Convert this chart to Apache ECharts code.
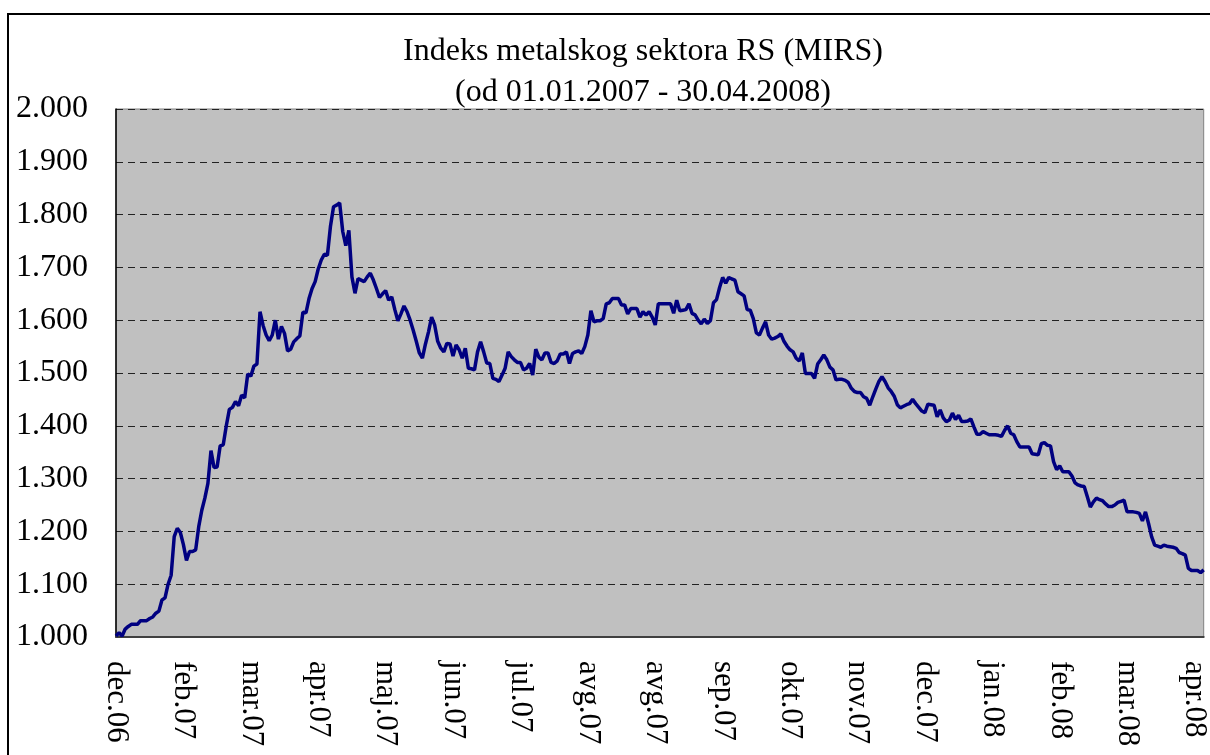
<!DOCTYPE html>
<html>
<head>
<meta charset="utf-8">
<title>MIRS</title>
<script src="https://cdn.jsdelivr.net/npm/echarts@6/dist/echarts.min.js"></script>
<style>
  html, body { margin: 0; padding: 0; background: #fff; overflow: hidden; width: 1210px; height: 755px; }
  #chart { position: absolute; left: 0; top: 0; width: 1210px; height: 755px; }
  .frame { position: absolute; left: 7px; top: 13px; width: 1210px; height: 750px; border: 2px solid #000; pointer-events: none; }
</style>
</head>
<body>
<div id="chart"></div>
<div class="frame"></div>
<script>
// labels shown on every 22nd trading day
const tickLabels = ['dec.06', 'feb.07', 'mar.07', 'apr.07', 'maj.07', 'jun.07', 'jul.07', 'avg.07', 'avg.07',
  'sep.07', 'okt.07', 'nov.07', 'dec.07', 'jan.08', 'feb.08', 'mar.08', 'apr.08']
const labelEvery = 22

// index value (1.000 = 1000)
const mirs = [
  1002, 1008, 1002, 1015, 1020, 1024, 1024, 1024, 1031, 1031, 1031, 1035, 1038, 1045, 1049, 1070, 1074, 1100, 1117, 1190,
  1206, 1198, 1175, 1145, 1162, 1162, 1165, 1209, 1240, 1263, 1291, 1353, 1321, 1322, 1362, 1364, 1400, 1431, 1435, 1446,
  1438, 1458, 1453, 1498, 1494, 1513, 1517, 1616, 1590, 1572, 1561, 1572, 1600, 1564, 1588, 1575, 1542, 1545, 1559, 1565,
  1570, 1615, 1614, 1641, 1660, 1673, 1697, 1714, 1725, 1723, 1778, 1815, 1818, 1822, 1768, 1741, 1770, 1682, 1651, 1679,
  1676, 1673, 1682, 1689, 1676, 1660, 1643, 1650, 1656, 1638, 1644, 1620, 1599, 1612, 1627, 1616, 1600, 1581, 1560, 1538,
  1528, 1555, 1578, 1606, 1591, 1560, 1547, 1540, 1556, 1555, 1532, 1553, 1544, 1528, 1547, 1509, 1508, 1506, 1540, 1559,
  1540, 1519, 1518, 1490, 1488, 1484, 1496, 1509, 1540, 1531, 1525, 1520, 1520, 1506, 1509, 1518, 1496, 1545, 1530, 1525,
  1538, 1538, 1520, 1518, 1523, 1536, 1536, 1540, 1518, 1537, 1540, 1542, 1537, 1550, 1572, 1618, 1597, 1599, 1599, 1603,
  1631, 1633, 1641, 1641, 1641, 1629, 1629, 1612, 1622, 1622, 1622, 1606, 1616, 1610, 1616, 1606, 1591, 1631, 1631, 1631,
  1631, 1631, 1613, 1638, 1618, 1619, 1620, 1631, 1613, 1610, 1600, 1593, 1602, 1594, 1599, 1633, 1639, 1662, 1681, 1670,
  1681, 1678, 1676, 1654, 1650, 1646, 1620, 1619, 1603, 1576, 1572, 1585, 1597, 1572, 1564, 1566, 1569, 1574, 1560, 1551,
  1544, 1540, 1528, 1523, 1538, 1499, 1499, 1499, 1490, 1517, 1525, 1534, 1525, 1511, 1506, 1487, 1488, 1488, 1486, 1482,
  1471, 1465, 1463, 1463, 1455, 1452, 1439, 1455, 1470, 1484, 1493, 1484, 1472, 1465, 1456, 1440, 1434, 1437, 1440, 1442,
  1450, 1442, 1435, 1428, 1425, 1441, 1440, 1439, 1417, 1430, 1415, 1408, 1411, 1424, 1412, 1420, 1408, 1408, 1409, 1413,
  1398, 1384, 1384, 1389, 1386, 1383, 1383, 1383, 1382, 1380, 1391, 1400, 1386, 1383, 1370, 1360, 1360, 1360, 1360, 1347,
  1346, 1345, 1366, 1368, 1363, 1362, 1332, 1317, 1324, 1313, 1313, 1313, 1305, 1292, 1288, 1286, 1285, 1266, 1246, 1256,
  1263, 1260, 1258, 1252, 1247, 1247, 1250, 1255, 1257, 1259, 1237, 1237, 1237, 1236, 1234, 1220, 1237, 1215, 1190, 1174,
  1172, 1170, 1174, 1172, 1171, 1170, 1168, 1160, 1158, 1155, 1130, 1126, 1126, 1126, 1122, 1127
]

const yMin = 1000
const yMax = 2000
const yStep = 100

const days = mirs.map((v, i) => (i % labelEvery === 0 ? tickLabels[i / labelEvery] : ''))

const font = 'Liberation Serif'
const myChart = echarts.init(document.getElementById('chart'))
myChart.setOption({
  animation: false,
  title: {
    text: 'Indeks metalskog sektora RS (MIRS)\n(od 01.01.2007 - 30.04.2008)',
    left: 638,
    top: 26,
    textAlign: 'center',
    textStyle: {
      fontFamily: font,
      fontSize: 32,
      fontWeight: 'normal',
      color: '#000',
      lineHeight: 41
    }
  },
  // plot runs off the right edge, like the cropped original
  grid: {
    left: 116,
    width: 1096,
    top: 109,
    bottom: 118,
    show: true,
    backgroundColor: '#c0c0c0',
    borderColor: '#808080',
    borderWidth: 1
  },
  xAxis: {
    type: 'category',
    boundaryGap: false,
    data: days,
    axisLine: { lineStyle: { color: '#404040', width: 2 } },
    axisTick: { show: false },
    axisLabel: {
      interval: labelEvery - 1,
      rotate: -90,
      margin: 24,
      fontFamily: font,
      fontSize: 31,
      color: '#000'
    },
    splitLine: { show: false }
  },
  yAxis: {
    type: 'value',
    min: yMin,
    max: yMax,
    interval: yStep,
    axisLine: { show: true, lineStyle: { color: '#000', width: 1.5 } },
    axisTick: { show: false },
    axisLabel: {
      margin: 28,
      fontFamily: font,
      fontSize: 32,
      color: '#000',
      formatter: (v) => (v / 1000).toFixed(3)
    },
    splitLine: {
      show: true,
      lineStyle: { color: '#222', width: 1, type: [7, 5] }
    }
  },
  series: [
    {
      name: 'MIRS',
      type: 'line',
      data: mirs,
      showSymbol: false,
      lineStyle: { color: '#000080', width: 3.5 },
      itemStyle: { color: '#000080' }
    }
  ]
})
</script>
</body>
</html>
